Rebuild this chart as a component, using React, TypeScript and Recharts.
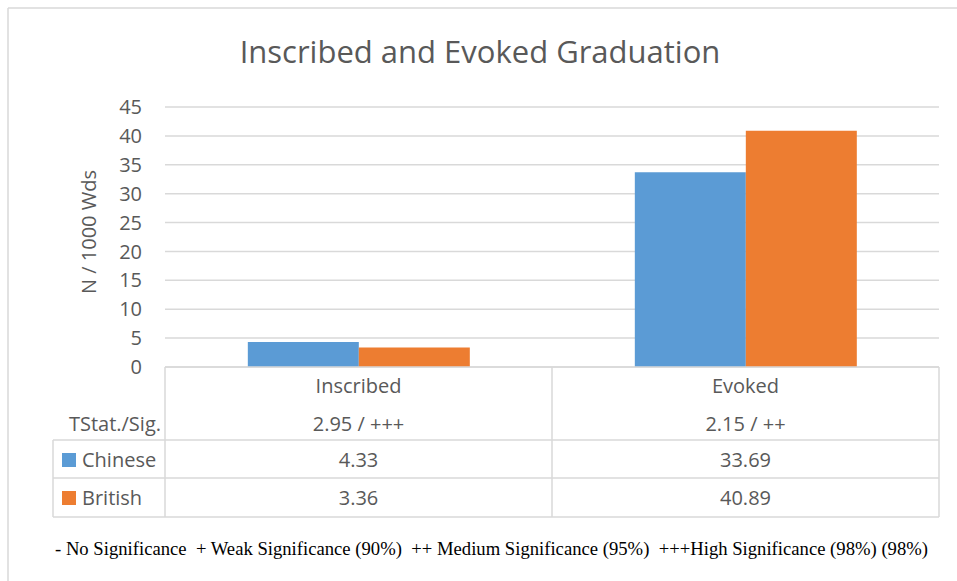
import { FC } from "react";
import { BarChart, Bar, XAxis, YAxis, CartesianGrid } from "recharts";

// Values
const categories = ["Inscribed", "Evoked"];
const chineseValues = [4.33, 33.69];
const britishValues = [3.36, 40.89];
const tStatLabels = ["2.95 / +++", "2.15 / ++"];
const yTicks = [0, 5, 10, 15, 20, 25, 30, 35, 40, 45];

const chartData = categories.map((name, i) => ({
  name,
  chinese: chineseValues[i],
  british: britishValues[i],
  tstat: tStatLabels[i],
}));

const BLUE = "#5B9BD5";
const ORANGE = "#ED7D31";
const TEXT = "#595959";
const LINE = "#d9d9d9";
const FONT = "'Open Sans', 'Noto Sans', sans-serif";

// data-table column drawn under each category band
const TableTick = (props: any) => {
  const { x, payload } = props;
  const row = chartData.find((d) => d.name === payload.value);
  if (!row) return null;
  const common = { x, textAnchor: "middle" as const, dominantBaseline: "central" as const, fill: TEXT, fontSize: 20, fontFamily: FONT };
  return (
    <g>
      <text {...common} y={385}>{row.name}</text>
      <text {...common} y={423}>{row.tstat}</text>
      <text {...common} y={459}>{row.chinese.toFixed(2)}</text>
      <text {...common} y={497}>{row.british.toFixed(2)}</text>
    </g>
  );
};

const Overlay: FC = () => (
  <svg
    width={957}
    height={581}
    style={{ position: "absolute", left: 0, top: 0, pointerEvents: "none" }}
  >
    {/* outer frame */}
    <line x1={8} y1={8} x2={957} y2={8} stroke={LINE} strokeWidth={1.5} />
    <line x1={8} y1={8} x2={8} y2={581} stroke={LINE} strokeWidth={1.5} />

    <text x={480} y={63} textAnchor="middle" fill={TEXT} fontSize={31} fontFamily={FONT}>
      Inscribed and Evoked Graduation
    </text>

    <text
      x={88}
      y={232}
      transform="rotate(-90 88 232)"
      textAnchor="middle"
      dominantBaseline="central"
      fill={TEXT}
      fontSize={20}
      fontFamily={FONT}
    >
      N / 1000 Wds
    </text>

    {/* data table grid */}
    <g stroke={LINE} strokeWidth={1.5}>
      <line x1={165} y1={367} x2={939} y2={367} />
      <line x1={53} y1={440} x2={939} y2={440} />
      <line x1={53} y1={478} x2={939} y2={478} />
      <line x1={53} y1={517} x2={939} y2={517} />
      <line x1={53} y1={440} x2={53} y2={517} />
      <line x1={165} y1={367} x2={165} y2={517} />
      <line x1={552} y1={367} x2={552} y2={517} />
      <line x1={939} y1={367} x2={939} y2={517} />
    </g>

    <text x={161} y={423} textAnchor="end" dominantBaseline="central" fill={TEXT} fontSize={20} fontFamily={FONT}>
      TStat./Sig.
    </text>
    <rect x={62} y={453} width={14} height={14} fill={BLUE} />
    <text x={82} y={459} dominantBaseline="central" fill={TEXT} fontSize={20} fontFamily={FONT}>
      Chinese
    </text>
    <rect x={62} y={491} width={14} height={14} fill={ORANGE} />
    <text x={82} y={497} dominantBaseline="central" fill={TEXT} fontSize={20} fontFamily={FONT}>
      British
    </text>

    <text
      x={55}
      y={555}
      fill="#000"
      fontSize={18}
      fontFamily="'Liberation Serif', 'Times New Roman', serif"
      textLength={873}
      lengthAdjust="spacingAndGlyphs"
      style={{ whiteSpace: "pre" }}
    >
      - No Significance  + Weak Significance (90%)  ++ Medium Significance (95%)  +++High Significance (98%) (98%)
    </text>
  </svg>
);

const App: FC = () => {
  return (
    <div style={{ position: "absolute", left: 0, top: 0, width: 957, height: 581, background: "#fff" }}>
      <BarChart
        width={957}
        height={581}
        data={chartData}
        margin={{ top: 107, right: 18, bottom: 64, left: 105 }}
        barGap={0}
        barCategoryGap="21.4%"
      >
        <CartesianGrid vertical={false} stroke={LINE} strokeWidth={1.5} />
        <XAxis
          dataKey="name"
          height={150}
          axisLine={false}
          tickLine={false}
          tickSize={0}
          tick={<TableTick />}
          interval={0}
        />
        <YAxis
          width={60}
          domain={[0, 45]}
          ticks={yTicks}
          axisLine={false}
          tickLine={false}
          tickSize={0}
          tickMargin={23}
          tick={{ fill: TEXT, fontSize: 20, fontFamily: FONT }}
        />
        <Bar dataKey="chinese" fill={BLUE} isAnimationActive={false} />
        <Bar dataKey="british" fill={ORANGE} isAnimationActive={false} />
      </BarChart>
      <Overlay />
    </div>
  );
};

export default App;
